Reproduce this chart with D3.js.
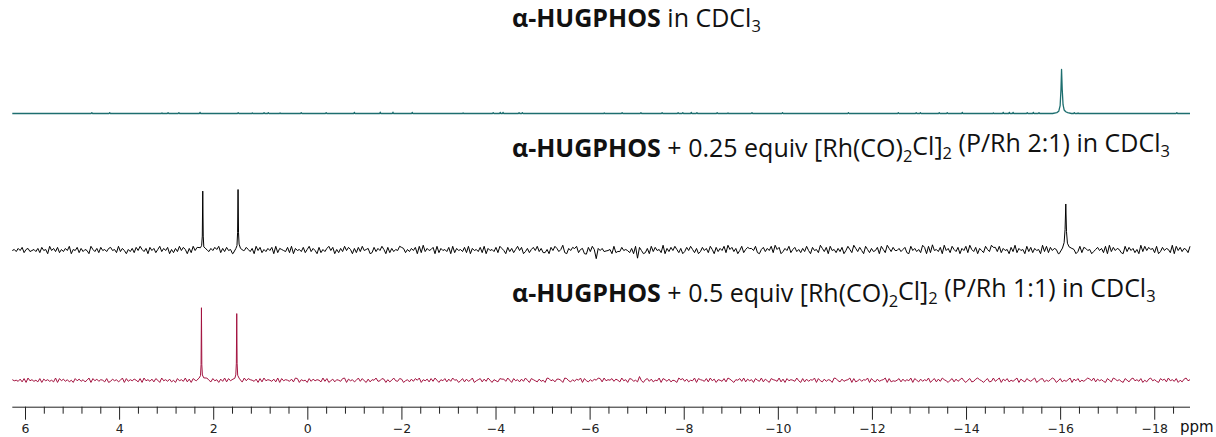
<!DOCTYPE html>
<html>
<head>
<meta charset="utf-8">
<script src="https://cdn.jsdelivr.net/npm/d3@7"></script>
<style>
  body { margin: 0; background: #fff; }
  svg { display: block; }
  .title { font-family: "Open Sans", Lato, sans-serif; font-size: 20px; fill: #111; }
  .axis text { font-family: "DejaVu Sans", sans-serif; font-size: 12.5px; fill: #222; }
</style>
</head>
<body>
<svg id="nmr" width="1216" height="437"></svg>
<script>
// ppm window of the spectrum
var ppmRange = [6.27, -18.76];
var majorTicks = [6, 4, 2, 0, -2, -4, -6, -8, -10, -12, -14, -16, -18];

// titles of each trace (bold part, then plain text / subscripts)
var titles = [
    {bold: "α-HUGPHOS", rest: [" in CDCl", {sub: "3"}]},
    {bold: "α-HUGPHOS", rest: [" + 0.25 equiv [Rh(CO)", {sub: "2"}, "Cl]", {sub: "2"}, " (P/Rh 2:1) in CDCl", {sub: "3"}]},
    {bold: "α-HUGPHOS", rest: [" + 0.5 equiv [Rh(CO)", {sub: "2"}, "Cl]", {sub: "2"}, " (P/Rh 1:1) in CDCl", {sub: "3"}]}
];

// peaks, [ppm, intensity] (tallest peak of a trace = 100)
var tealPeaks = [
    [[-15.84, 0], [-15.93, 2], [-15.97, 5], [-16.0, 18], [-16.018, 55], [-16.03, 100], [-16.044, 55], [-16.062, 20], [-16.085, 8], [-16.12, 4], [-16.16, 2], [-16.24, 0]]
];
var blackPeaks = [
    [[2.34, 0], [2.27, 3], [2.245, 7], [2.232, 25], [2.222, 100], [2.212, 25], [2.2, 7], [2.17, 3], [2.12, 0]],
    [[1.58, 0], [1.52, 3], [1.495, 8], [1.482, 28], [1.472, 100], [1.462, 28], [1.45, 9], [1.42, 4], [1.36, 0]],
    [[-15.98, 0], [-16.05, 4], [-16.085, 10], [-16.105, 32], [-16.12, 78], [-16.135, 32], [-16.155, 10], [-16.19, 4], [-16.25, 0]]
];
var redPeaks = [
    [[2.36, 0], [2.3, 3], [2.27, 7], [2.258, 22], [2.25, 100], [2.242, 22], [2.23, 7], [2.2, 3], [2.15, 0]],
    [[1.6, 0], [1.54, 3], [1.52, 8], [1.508, 24], [1.5, 92], [1.492, 24], [1.48, 8], [1.45, 4], [1.39, 0]]
];

// tiny spikes on the clean teal baseline, [ppm, intensity]
var tealSpikes = [
    [4.58, 2], [4.2, 2], [3.09, 1.5], [2.96, 2], [2.73, 2], [2.28, 2.5], [1.47, 2], [1.17, 1.5], [0.92, 2], [0.83, 2],
    [0.58, 1.5], [0.13, 2], [-0.4, 2], [-1.0, 2.5], [-1.55, 3], [-1.82, 3], [-2.23, 2.5], [-3.31, 1.5], [-3.95, 2],
    [-4.1, 2.5], [-4.16, 2.5], [-4.5, 2], [-4.57, 2], [-6.31, 1.5], [-6.69, 2], [-7.09, 2], [-7.54, 2], [-7.88, 2],
    [-7.98, 2], [-8.16, 2.5], [-8.28, 2], [-8.71, 2], [-8.94, 1.5], [-9.45, 2], [-10.1, 2], [-11.5, 2], [-12.56, 2],
    [-12.94, 2], [-13.03, 2], [-13.43, 2], [-13.6, 2], [-13.92, 2.5], [-14.58, 1.5], [-14.79, 2.5], [-14.92, 2.5],
    [-15.0, 2.5], [-15.3, 2], [-15.43, 2.5], [-15.55, 2], [-16.3, 2], [-16.38, 1.5], [-18.48, 2]
];

// baseline noise, one digit per sample across the window
var blackNoise =
    "45364725634536274518463725364815472635418536274536" +
    "74528364153627485361746258364715263847516284736154" +
    "36475826374519362847536184725364718265437281645372" +
    "58364172536847152638475162738456127364851726354876" +
    "25364718293645718264537182645372816453728164537286" +
    "41736258471362574836225174863592164738256147385264" +
    "63745182637459261837452618374529163748526137485261" +
    "37462851736482957361482573648215736482957136482573" +
    "52638417452963718452637148529637418526347185296374" +
    "46357218463529718264537194628537164829537164285397" +
    "73826451739264518372645193827465183927465138276451" +
    "35746281937465218374625193847562813746529184736528";
var redNoise =
    "64537281946352817463529184736251847362591847365281" +
    "37462591836475281946372851946372518463927185463729" +
    "52846173928465317294865371829465372918465372981645" +
    "18374652938147265389174625938417265934871625943871" +
    "46273859164728395164827395614827359146827395164287" +
    "73951846273951864273519846273519842637591842637598" +
    "29461837529461873529416837254918637254196837254918" +
    "65382947165382974165839274618539274186539271846539" +
    "41827365918427365198427356918247365918427356918243" +
    "58273649185273649158273964158273694158237964158239" +
    "36917482536917428536914782536971482536917482536974" +
    "92746318529746318527946381527946318572946381527946";

// extra baseline features (phase wiggles), [ppm, intensity]
var blackExtra = [[-5.95, -6], [-6.15, -10], [-6.35, -6], [-6.8, -9], [-7.0, -11], [-7.15, -7], [-6.6, -5], [-5.7, 5], [-9.4, 5], [-13.3, 6]];
var redExtra = [[-5.35, 3], [-6.45, 3], [-7.05, 2]];

var traces = [
    {color: "#1d6e6f", base: 113.5, height: 44, width: 1.3, peaks: tealPeaks, noise: null, amp: 0, spikes: tealSpikes, extra: []},
    {color: "#000000", base: 250, height: 60, width: 1, peaks: blackPeaks, noise: blackNoise, amp: 1.75, spikes: [], extra: blackExtra},
    {color: "#a3123f", base: 380.5, height: 73, width: 1, peaks: redPeaks, noise: redNoise, amp: 0.75, spikes: [], extra: redExtra}
];
var titlePos = [{x: 512, y: 27}, {x: 512, y: 157}, {x: 512, y: 302}];
var titleRight = 1170;   // right end of the widest title

function build_trace(t) {
    var n = t.noise ? t.noise.length : 2,
        grid = d3.scaleLinear().domain([0, n - 1]).range(ppmRange),
        vals = t.noise ? t.noise.split("").map(c => (+c - 4.5) * t.amp) : [0, 0];

    t.extra.forEach(e => {
        var i = Math.round(grid.invert(e[0]));
        vals[i] += e[1];
    });

    var inPeak = p => t.peaks.some(pk => p <= pk[0][0] && p >= pk[pk.length - 1][0]);
    var pts = [];
    d3.range(n).forEach(i => {
        var p = grid(i);
        if (!inPeak(p)) pts.push([p, vals[i]]);
    });
    t.peaks.forEach(pk => pk.forEach(d => {
        var i = Math.max(0, Math.min(n - 1, Math.round(grid.invert(d[0]))));
        pts.push([d[0], d[1] + vals[i] * (d[1] === 0 ? 1 : 0.3)]);
    }));
    t.spikes.forEach(s => {
        pts.push([s[0] + 0.012, 0], [s[0], s[1]], [s[0] - 0.012, 0]);
    });
    pts.sort((a, b) => b[0] - a[0]);
    return pts;
}

function draw_titles(svg) {
    var nodes = titles.map((tt, i) => {
        var txt = svg.append("text").classed("title", true)
            .attr("x", titlePos[i].x).attr("y", titlePos[i].y);
        txt.append("tspan").style("font-weight", "bold").text(tt.bold);
        var pending = null;
        tt.rest.forEach(r => {
            if (typeof r === "string") {
                txt.append("tspan").attr("dy", pending).text(r);
                pending = null;
            } else {
                txt.append("tspan").attr("dy", "0.28em").style("font-size", "0.66em").text(r.sub);
                pending = "-0.28em";
            }
        });
        return txt;
    });
    // fit the widest title to its span in the original figure
    var w = nodes[1].node().getComputedTextLength(),
        size = 20 * (titleRight - titlePos[1].x) / w;
    nodes.forEach(n => n.style("font-size", size + "px"));
}

function draw() {
    var svg = d3.select("#nmr"),
        x = d3.scaleLinear().domain(ppmRange).range([12.3, 1190]);

    traces.forEach(t => {
        var y = d3.scaleLinear().domain([0, 100]).range([t.base, t.base - t.height]);
        var line = d3.line().x(d => x(d[0])).y(d => y(d[1]));
        svg.append("path")
            .datum(build_trace(t))
            .attr("fill", "none")
            .attr("stroke", t.color)
            .attr("stroke-width", t.width)
            .attr("stroke-linejoin", "round")
            .attr("d", line);
    });

    draw_titles(svg);

    // axis: major ticks labelled, minor every 0.4 ppm
    var axisY = 406.7;
    var minor = d3.range(6, -18.8, -0.4).filter(v => Math.abs(v / 2 - Math.round(v / 2)) > 0.01);
    var fmt = v => v < 0 ? "\u2212" + Math.abs(v) : String(v);

    var gMinor = svg.append("g").classed("axis", true).attr("transform", "translate(0," + axisY + ")")
        .call(d3.axisBottom(x).tickValues(minor).tickSize(7).tickFormat(""));
    gMinor.select(".domain").remove();
    gMinor.selectAll("line").attr("stroke", "#222");

    var gMajor = svg.append("g").classed("axis", true).attr("transform", "translate(0," + axisY + ")")
        .call(d3.axisBottom(x).tickValues(majorTicks).tickSize(13).tickSizeOuter(0).tickFormat(fmt));
    gMajor.select(".domain").attr("stroke", "#222").attr("d", "M12.3,0.5H1190");
    gMajor.selectAll("line").attr("stroke", "#222");
    gMajor.selectAll("text").attr("y", 17).attr("dy", "0.71em");

    svg.append("text").attr("x", 1180).attr("y", 432)
        .style("font-family", "DejaVu Sans, sans-serif").style("font-size", "15px").style("fill", "#111")
        .text("ppm");
}

draw();
</script>
</body>
</html>
